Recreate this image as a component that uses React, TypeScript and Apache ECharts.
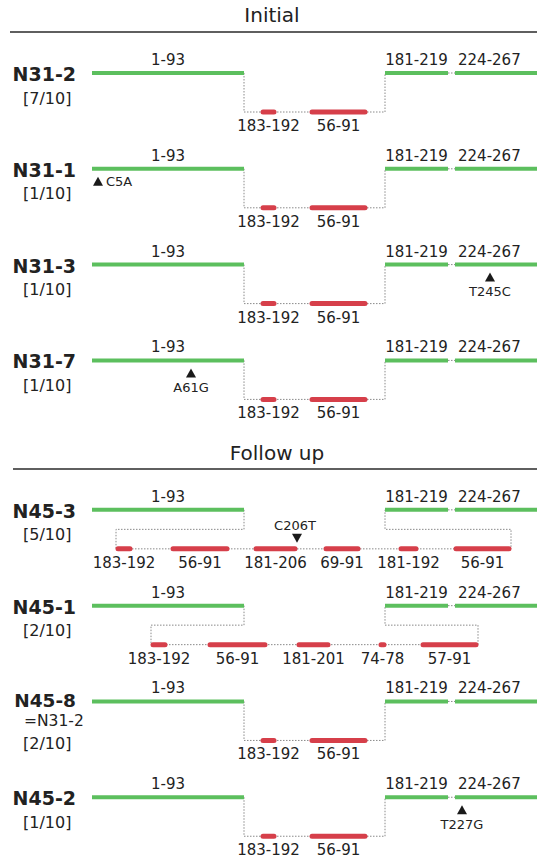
import React, { useEffect, useRef } from "react";
import * as echarts from "echarts";

// ---------- data ----------
const sectionTitles = ["Initial", "Follow up"];
const rowNames = ["N31-2", "N31-1", "N31-3", "N31-7", "N45-3", "N45-1", "N45-8", "N45-2"];
const rowNotes = ["", "", "", "", "", "", "=N31-2", ""];
const rowCounts = ["[7/10]", "[1/10]", "[1/10]", "[1/10]", "[5/10]", "[2/10]", "[2/10]", "[1/10]"];
const rowSection = [0, 0, 0, 0, 1, 1, 1, 1];

// retained (upper) segments, diagram x units
const upperLabels = ["1-93", "181-219", "224-267"];
const upperStarts = [92, 385, 455];
const upperEnds = [244, 448, 537];

// inserted (lower) segment sets
const stdLabels = ["183-192", "56-91"];
const stdStarts = [261, 310];
const stdEnds = [276, 367];

const n453Labels = ["183-192", "56-91", "181-206", "69-91", "181-192", "56-91"];
const n453Starts = [116, 171, 254, 324, 399, 454];
const n453Ends = [132, 229, 297, 360, 418, 511];

const n451Labels = ["183-192", "56-91", "181-201", "74-78", "57-91"];
const n451Starts = [151, 208, 297, 379, 421];
const n451Ends = [167, 267, 330, 386, 478];

const rowLowerLabels = [stdLabels, stdLabels, stdLabels, stdLabels, n453Labels, n451Labels, stdLabels, stdLabels];
const rowLowerStarts = [stdStarts, stdStarts, stdStarts, stdStarts, n453Starts, n451Starts, stdStarts, stdStarts];
const rowLowerEnds = [stdEnds, stdEnds, stdEnds, stdEnds, n453Ends, n451Ends, stdEnds, stdEnds];

// point mutations
const mutRows = [1, 2, 3, 4, 7];
const mutLabels = ["C5A", "T245C", "A61G", "C206T", "T227G"];
const mutPos = [98, 490, 191, 297, 462];
const mutTrack = ["upper-side", "upper", "upper", "lower", "upper"];

// ---------- layout ----------
const W = 537;
const H = 858;
const ROW_GAP = 95.8;
const FIRST_ROW = 73;
const SECTION_START_SLOT = [0, 4.56];
const LOWER_DROP = 39;
const BRACKET_DROP = 19.5;
const GREEN = "#5cbf5e";
const RED = "#d63f4a";
const DOT = "#8a8a8a";
const INK = "#222";
const FONT = '"DejaVu Sans", sans-serif';

const rowSlot = rowSection.map((s, i) => {
  const idxInSection = rowSection.slice(0, i).filter((v) => v === s).length;
  return SECTION_START_SLOT[s] + idxInSection;
});
const Y_MIN = -FIRST_ROW / ROW_GAP;
const Y_MAX = Y_MIN + H / ROW_GAP;

function text(x: number, y: number, str: string, size: number, align: string, weight = "normal") {
  return {
    type: "text",
    style: {
      text: str,
      x,
      y,
      fill: INK,
      font: `${weight} ${size}px ${FONT}`,
      textAlign: align,
      textVerticalAlign: "middle",
    },
  };
}

function renderRow(params: any, api: any) {
  const i = api.value(2);
  const slot = rowSlot[i];
  const px = (x: number) => api.coord([x, slot])[0];
  const yU = api.coord([0, slot])[1];
  const yL = yU + LOWER_DROP;
  const yM = yU + BRACKET_DROP;
  const children: any[] = [];
  const dotted = (pts: number[][]) => ({
    type: "polyline",
    shape: { points: pts },
    style: { stroke: DOT, lineWidth: 1, lineDash: [1.5, 1.5], fill: null },
  });

  const starts = rowLowerStarts[i];
  const ends = rowLowerEnds[i];
  const labels = rowLowerLabels[i];
  const leftJ = px(upperEnds[0]);
  const rightJ = px(upperStarts[1]);
  const first = px(starts[0]);
  const last = px(ends[ends.length - 1]);

  // connectors
  if (first < leftJ || last > rightJ) {
    children.push(
      dotted([
        [leftJ, yU],
        [leftJ, yM],
        [first, yM],
        [first, yL],
        [last, yL],
        [last, yM],
        [rightJ, yM],
        [rightJ, yU],
      ])
    );
  } else {
    children.push(dotted([[leftJ, yU], [leftJ, yL], [rightJ, yL], [rightJ, yU]]));
  }
  children.push(dotted([[px(upperEnds[1]), yU], [px(upperStarts[2]), yU]]));

  // upper segments
  upperLabels.forEach((lab, k) => {
    const a = px(upperStarts[k]);
    const b = px(upperEnds[k]);
    children.push({
      type: "line",
      shape: { x1: a, y1: yU, x2: b, y2: yU },
      style: { stroke: GREEN, lineWidth: 4, lineCap: "butt" },
    });
    const runsOff = upperEnds[k] >= W;
    children.push(text(runsOff ? a + 3 : (a + b) / 2, yU - 13, lab, 15, runsOff ? "left" : "center"));
  });

  // lower segments
  labels.forEach((lab, k) => {
    const a = px(starts[k]);
    const b = px(ends[k]);
    children.push({
      type: "line",
      shape: { x1: a + 2, y1: yL, x2: b - 2, y2: yL },
      style: { stroke: RED, lineWidth: 5, lineCap: "round" },
    });
    children.push(text((a + b) / 2, yL + 14, lab, 15, "center"));
  });

  // mutations
  mutRows.forEach((r, m) => {
    if (r !== i) return;
    const x = px(mutPos[m]);
    const kind = mutTrack[m];
    if (kind === "lower") {
      children.push({
        type: "polygon",
        shape: { points: [[x - 5, yL - 15], [x + 5, yL - 15], [x, yL - 6]] },
        style: { fill: "#1a1a1a" },
      });
      children.push(text(x - 2, yL - 23, mutLabels[m], 13, "center"));
    } else {
      const top = yU + 8;
      children.push({
        type: "polygon",
        shape: { points: [[x, top], [x + 5, top + 9], [x - 5, top + 9]] },
        style: { fill: "#1a1a1a" },
      });
      if (kind === "upper-side") {
        children.push(text(x + 8, top + 5, mutLabels[m], 13, "left"));
      } else {
        children.push(text(x, yU + 27, mutLabels[m], 13, "center"));
      }
    }
  });

  // row labels
  if (rowNotes[i]) {
    children.push(text(76, yU - 1, rowNames[i], 18.5, "right", "bold"));
    children.push(text(24, yU + 20, rowNotes[i], 15.5, "left"));
    children.push(text(23, yU + 42, rowCounts[i], 16, "left"));
  } else {
    children.push(text(76, yU + 1, rowNames[i], 19, "right", "bold"));
    children.push(text(23, yU + 25, rowCounts[i], 16, "left"));
  }

  return { type: "group", children };
}

export default function App() {
  const ref = useRef<HTMLDivElement>(null);
  useEffect(() => {
    if (!ref.current) return;
    const chart = echarts.init(ref.current, null, { renderer: "svg" });
    const titleY = [15, 453];
    const ruleY = [32, 469];
    const ruleX = [10, 13];
    const titleX = [272, 277];
    const graphics: any[] = [];
    sectionTitles.forEach((t, s) => {
      graphics.push({
        type: "text",
        x: titleX[s],
        y: titleY[s],
        style: {
          text: t,
          fill: INK,
          font: `20px ${FONT}`,
          textAlign: "center",
          textVerticalAlign: "middle",
        },
      });
      graphics.push({
        type: "line",
        shape: { x1: ruleX[s], y1: ruleY[s], x2: W, y2: ruleY[s] },
        style: { stroke: "#2a2a2a", lineWidth: 1.5 },
      });
    });
    chart.setOption({
      animation: false,
      backgroundColor: "#ffffff",
      grid: { left: 0, right: 0, top: 0, bottom: 0 },
      xAxis: { type: "value", min: 0, max: W, show: false },
      yAxis: { type: "value", min: Y_MIN, max: Y_MAX, inverse: true, show: false },
      graphic: graphics,
      series: [
        {
          type: "custom",
          renderItem: renderRow,
          data: rowNames.map((_, i) => [0, rowSlot[i], i]),
          encode: { x: 0, y: 1 },
          clip: false,
          silent: true,
        },
      ],
    });
    return () => chart.dispose();
  }, []);
  return (
    <div
      ref={ref}
      style={{ position: "fixed", left: 0, top: 0, width: W, height: H, background: "#fff" }}
    />
  );
}
